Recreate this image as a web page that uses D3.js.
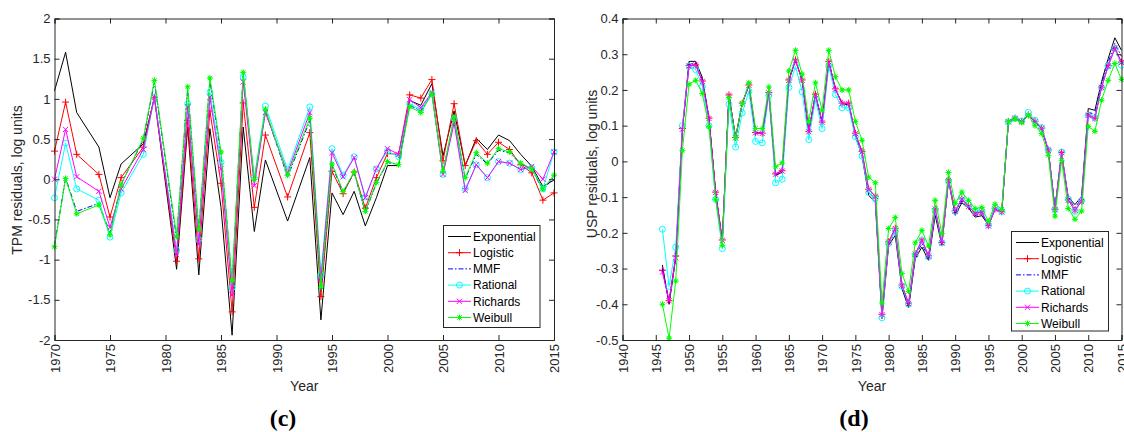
<!DOCTYPE html>
<html>
<head>
<meta charset="utf-8">
<script src="https://cdn.jsdelivr.net/npm/d3@7"></script>
<style>
  body { margin: 0; background: #fff; }
  svg { display: block; font-family: "Liberation Sans", Arial, sans-serif; }
  .axis path, .axis line { stroke: #262626; }
  .axis text { fill: #262626; font-size: 13px; font-family: "Liberation Sans", Arial, sans-serif; }
</style>
</head>
<body>
<svg width="1124" height="432"></svg>
<script>
// ---- data: panel (c), TPM residuals ----
var tpmYears = [1970, 1971, 1972, 1974, 1975, 1976, 1978, 1979, 1981, 1982, 1983, 1984, 1985, 1986,
  1987, 1988, 1989, 1991, 1993, 1994, 1995, 1996, 1997, 1998, 1999, 2000, 2001, 2002, 2003, 2004,
  2005, 2006, 2007, 2008, 2009, 2010, 2011, 2012, 2013, 2014, 2015];
var tpmExponential = [1.10, 1.58, 0.83, 0.40, -0.23, 0.19, 0.44, 1.02, -1.12, 0.65, -1.19, 0.63, -0.35, -1.94,
  0.65, -0.65, 0.24, -0.52, 0.27, -1.75, -0.17, -0.44, -0.15, -0.58, -0.23, 0.17, 0.17, 0.98, 0.92, 1.19,
  0.29, 0.85, 0.17, 0.51, 0.37, 0.55, 0.48, 0.31, 0.16, -0.09, -0.01];
var tpmLogistic = [0.35, 0.96, 0.31, 0.06, -0.47, 0.02, 0.40, 1.02, -1.02, 0.73, -0.99, 0.85, -0.05, -1.65,
  0.95, -0.35, 0.55, -0.22, 0.58, -1.46, 0.10, -0.18, 0.09, -0.36, 0.02, 0.32, 0.31, 1.05, 1.01, 1.24,
  0.23, 0.94, 0.17, 0.48, 0.31, 0.46, 0.37, 0.18, 0.08, -0.26, -0.17];
var tpmMMF = [-0.82, 0.02, -0.40, -0.30, -0.67, -0.06, 0.49, 1.21, -0.74, 1.12, -0.65, 1.23, 0.31, -1.29,
  1.30, -0.02, 0.85, 0.03, 0.73, -1.37, 0.17, -0.16, 0.08, -0.41, -0.05, 0.21, 0.18, 0.92, 0.85, 1.07,
  0.09, 0.75, 0.01, 0.31, 0.19, 0.36, 0.33, 0.19, 0.13, -0.14, 0.03];
var tpmRational = [-0.23, 0.45, -0.12, -0.26, -0.72, -0.17, 0.31, 1.02, -0.88, 0.94, -0.75, 1.08, 0.21, -1.35,
  1.27, 0.02, 0.91, 0.12, 0.90, -1.19, 0.38, 0.05, 0.28, -0.22, 0.13, 0.35, 0.28, 0.94, 0.87, 1.06,
  0.06, 0.75, -0.12, 0.18, 0.02, 0.22, 0.20, 0.12, 0.14, -0.12, 0.34];
var tpmRichards = [0.00, 0.62, 0.03, -0.15, -0.60, -0.12, 0.37, 1.02, -0.94, 0.90, -0.81, 1.02, 0.13, -1.44,
  1.21, -0.08, 0.83, 0.08, 0.83, -1.25, 0.33, 0.03, 0.27, -0.23, 0.13, 0.38, 0.31, 0.99, 0.89, 1.08,
  0.06, 0.70, -0.14, 0.18, 0.02, 0.22, 0.20, 0.12, 0.16, 0.00, 0.34];
var tpmWeibull = [-0.84, 0.01, -0.43, -0.32, -0.69, -0.07, 0.51, 1.23, -0.71, 1.15, -0.62, 1.26, 0.34, -1.26,
  1.33, 0.00, 0.87, 0.05, 0.76, -1.34, 0.19, -0.15, 0.09, -0.40, -0.04, 0.22, 0.18, 0.90, 0.83, 1.06,
  0.10, 0.77, 0.02, 0.33, 0.20, 0.38, 0.34, 0.20, 0.13, -0.12, 0.05];

// ---- data: panel (d), USP residuals, one value per year 1946..2015 ----
var uspYears = d3.range(1946, 2016);
var uspExponential = [
  -0.29, -0.40, -0.27, 0.09, 0.28, 0.28, 0.235, 0.12, -0.09, -0.225,
  0.185, 0.066, 0.162, 0.213, 0.08, 0.078, 0.192, -0.04, -0.03, 0.227,
  0.283, 0.227, 0.083, 0.187, 0.109, 0.279, 0.202, 0.162, 0.158, 0.07,
  0.015, -0.095, -0.114, -0.44, -0.235, -0.207, -0.356, -0.41, -0.272, -0.24,
  -0.277, -0.151, -0.235, -0.053, -0.151, -0.116, -0.13, -0.156, -0.152, -0.178,
  -0.13, -0.142, 0.111, 0.12, 0.111, 0.129, 0.111, 0.092, 0.031, -0.13,
  0.021, -0.1, -0.121, -0.098, 0.148, 0.143, 0.223, 0.288, 0.346, 0.311];
var uspLogistic = [
  -0.305, -0.39, -0.265, 0.092, 0.268, 0.27, 0.225, 0.121, -0.086, -0.22,
  0.186, 0.067, 0.163, 0.214, 0.081, 0.079, 0.193, -0.035, -0.026, 0.228,
  0.284, 0.228, 0.084, 0.188, 0.11, 0.28, 0.203, 0.163, 0.163, 0.079,
  0.028, -0.078, -0.097, -0.428, -0.225, -0.187, -0.346, -0.397, -0.259, -0.22,
  -0.264, -0.133, -0.227, -0.052, -0.138, -0.105, -0.125, -0.145, -0.141, -0.18,
  -0.133, -0.141, 0.112, 0.121, 0.112, 0.13, 0.112, 0.093, 0.032, -0.134,
  0.025, -0.108, -0.136, -0.111, 0.13, 0.121, 0.208, 0.268, 0.317, 0.278];
var uspMMF = [
  -0.30, -0.395, -0.27, 0.09, 0.272, 0.274, 0.228, 0.12, -0.088, -0.223,
  0.185, 0.066, 0.162, 0.213, 0.08, 0.078, 0.192, -0.038, -0.028, 0.227,
  0.283, 0.227, 0.083, 0.187, 0.109, 0.279, 0.202, 0.162, 0.16, 0.074,
  0.021, -0.087, -0.106, -0.434, -0.23, -0.197, -0.351, -0.404, -0.266, -0.23,
  -0.271, -0.142, -0.231, -0.053, -0.145, -0.111, -0.128, -0.151, -0.147, -0.18,
  -0.132, -0.142, 0.111, 0.12, 0.111, 0.129, 0.111, 0.092, 0.031, -0.132,
  0.022, -0.104, -0.129, -0.105, 0.138, 0.131, 0.215, 0.277, 0.331, 0.294];
var uspRational = [
  -0.19, -0.35, -0.24, 0.10, 0.267, 0.257, 0.21, 0.10, -0.106, -0.244,
  0.16, 0.04, 0.136, 0.196, 0.056, 0.052, 0.185, -0.06, -0.05, 0.207,
  0.266, 0.195, 0.061, 0.173, 0.092, 0.266, 0.187, 0.15, 0.15, 0.069,
  0.015, -0.087, -0.104, -0.438, -0.23, -0.195, -0.35, -0.40, -0.262, -0.221,
  -0.268, -0.138, -0.228, -0.055, -0.14, -0.10, -0.12, -0.14, -0.138, -0.178,
  -0.13, -0.14, 0.111, 0.12, 0.113, 0.137, 0.115, 0.095, 0.032, -0.135,
  0.026, -0.105, -0.14, -0.11, 0.129, 0.122, 0.207, 0.267, 0.316, 0.269];
var uspRichards = [
  -0.31, -0.39, -0.27, 0.09, 0.267, 0.27, 0.224, 0.12, -0.087, -0.221,
  0.185, 0.066, 0.162, 0.213, 0.08, 0.078, 0.192, -0.036, -0.027, 0.227,
  0.283, 0.227, 0.083, 0.187, 0.109, 0.279, 0.202, 0.162, 0.162, 0.078,
  0.027, -0.079, -0.098, -0.429, -0.226, -0.188, -0.347, -0.398, -0.26, -0.221,
  -0.265, -0.134, -0.228, -0.053, -0.139, -0.106, -0.126, -0.146, -0.142, -0.181,
  -0.134, -0.142, 0.111, 0.12, 0.111, 0.129, 0.111, 0.092, 0.031, -0.135,
  0.024, -0.109, -0.137, -0.112, 0.129, 0.12, 0.207, 0.267, 0.316, 0.277];
var uspWeibull = [
  -0.40, -0.495, -0.335, 0.03, 0.216, 0.227, 0.19, 0.097, -0.106, -0.235,
  0.178, 0.066, 0.162, 0.22, 0.092, 0.092, 0.208, -0.015, -0.004, 0.253,
  0.311, 0.244, 0.112, 0.22, 0.143, 0.311, 0.237, 0.2, 0.2, 0.112,
  0.059, -0.044, -0.06, -0.396, -0.188, -0.157, -0.314, -0.364, -0.228, -0.193,
  -0.237, -0.109, -0.202, -0.031, -0.118, -0.086, -0.109, -0.132, -0.129, -0.168,
  -0.12, -0.134, 0.111, 0.119, 0.109, 0.129, 0.10, 0.078, 0.017, -0.153,
  0.003, -0.132, -0.162, -0.139, 0.098, 0.084, 0.171, 0.227, 0.274, 0.229];

// ---- ticks ----
var tpmXTicks = [1970, 1975, 1980, 1985, 1990, 1995, 2000, 2005, 2010, 2015];
var tpmYTicks = [-2, -1.5, -1, -0.5, 0, 0.5, 1, 1.5, 2];
var uspXTicks = [1940, 1945, 1950, 1955, 1960, 1965, 1970, 1975, 1980, 1985, 1990, 1995, 2000, 2005, 2010, 2015];
var uspYTicks = [-0.5, -0.4, -0.3, -0.2, -0.1, 0, 0.1, 0.2, 0.3, 0.4];

var seriesNames = ["Exponential", "Logistic", "MMF", "Rational", "Richards", "Weibull"];
var seriesColors = ["#000000", "#ff0000", "#0000ff", "#00ffff", "#ff00ff", "#00ff00"];
var seriesMarkers = ["none", "plus", "none", "circle", "cross", "star"];

var svg = d3.select("svg");

// marker shapes, drawn around (0,0)
var markerPaths = {
  plus: "M-3.5,0H3.5M0,-3.5V3.5",
  cross: "M-2.6,-2.6L2.6,2.6M-2.6,2.6L2.6,-2.6",
  star: "M-3,0H3M0,-3V3M-2.2,-2.2L2.2,2.2M-2.2,2.2L2.2,-2.2"
};

function drawMarker(g, kind, color, x, y) {
  if (kind === "none") return;
  if (kind === "circle") {
    g.append("circle").attr("cx", x).attr("cy", y).attr("r", 3)
      .attr("fill", "none").attr("stroke", color).attr("stroke-width", 1);
  } else {
    g.append("path").attr("d", markerPaths[kind])
      .attr("transform", "translate(" + x + "," + y + ")")
      .attr("fill", "none").attr("stroke", color).attr("stroke-width", 1);
    if (kind === "star") {
      g.append("circle").attr("cx", x).attr("cy", y).attr("r", 1.6).attr("fill", color);
    }
  }
}

function drawPanel(cfg) {
  var x = d3.scaleLinear().domain(cfg.xDomain).range([cfg.left, cfg.right]);
  var y = d3.scaleLinear().domain(cfg.yDomain).range([cfg.bottom, cfg.top]);
  var g = svg.append("g");

  // series lines and markers
  var line = d3.line()
    .x(function(d) { return x(d[0]); })
    .y(function(d) { return y(d[1]); });

  cfg.series.forEach(function(values, i) {
    var pts = cfg.years.map(function(yr, j) { return [yr, values[j]]; });
    g.append("path")
      .datum(pts)
      .attr("d", line)
      .attr("fill", "none")
      .attr("stroke", seriesColors[i])
      .attr("stroke-width", 1)
      .attr("stroke-dasharray", seriesNames[i] === "MMF" ? "5,2,1.5,2" : null);
    var mg = g.append("g");
    pts.forEach(function(p) {
      drawMarker(mg, seriesMarkers[i], seriesColors[i], x(p[0]), y(p[1]));
    });
  });

  // axes, MATLAB style: ticks inside, box all around
  var bottomAxis = g.append("g").attr("class", "axis")
    .attr("transform", "translate(0," + cfg.bottom + ")")
    .call(d3.axisBottom(x).tickValues(cfg.xTicks).tickSize(-5).tickFormat(d3.format("d")));
  bottomAxis.selectAll("text")
    .attr("transform", "rotate(-90)")
    .attr("text-anchor", "end")
    .attr("x", -4)
    .attr("y", 0)
    .attr("dy", "0.36em");

  g.append("g").attr("class", "axis")
    .attr("transform", "translate(0," + cfg.top + ")")
    .call(d3.axisTop(x).tickValues(cfg.xTicks).tickSize(-5).tickFormat(""));

  g.append("g").attr("class", "axis")
    .attr("transform", "translate(" + cfg.left + ",0)")
    .call(d3.axisLeft(y).tickValues(cfg.yTicks).tickSize(-5).tickPadding(4)
      .tickFormat(function(d) { return String(d); }));

  g.append("g").attr("class", "axis")
    .attr("transform", "translate(" + cfg.right + ",0)")
    .call(d3.axisRight(y).tickValues(cfg.yTicks).tickSize(-5).tickFormat(""));

  g.selectAll(".axis .domain").attr("stroke-width", 1);

  // axis titles
  g.append("text")
    .attr("transform", "translate(" + cfg.yLabelX + "," + cfg.yLabelY + ") rotate(-90)")
    .attr("text-anchor", "middle")
    .attr("font-size", 14)
    .attr("fill", "#262626")
    .text(cfg.yLabel);

  g.append("text")
    .attr("x", (cfg.left + cfg.right) / 2)
    .attr("y", 391)
    .attr("text-anchor", "middle")
    .attr("font-size", 14)
    .attr("fill", "#262626")
    .text("Year");

  // panel caption
  g.append("text")
    .attr("x", cfg.captionX)
    .attr("y", 426)
    .attr("text-anchor", "middle")
    .attr("font-family", "'Liberation Serif', 'Times New Roman', serif")
    .attr("font-weight", "bold")
    .attr("font-size", 24)
    .attr("fill", "#000")
    .text(cfg.caption);

  // legend
  var lg = g.append("g");
  lg.append("rect")
    .attr("x", cfg.legend[0]).attr("y", cfg.legend[1])
    .attr("width", cfg.legend[2]).attr("height", cfg.legend[3])
    .attr("fill", "#fff").attr("stroke", "#262626").attr("stroke-width", 1);
  seriesNames.forEach(function(name, i) {
    var cy = cfg.legend[1] + 11 + i * 16.2;
    var x0 = cfg.legend[0] + 4.5;
    var x1 = x0 + 23;
    lg.append("line")
      .attr("x1", x0).attr("x2", x1).attr("y1", cy).attr("y2", cy)
      .attr("stroke", seriesColors[i]).attr("stroke-width", 1)
      .attr("stroke-dasharray", name === "MMF" ? "5,2,1.5,2" : null);
    drawMarker(lg, seriesMarkers[i], seriesColors[i], (x0 + x1) / 2, cy);
    lg.append("text")
      .attr("x", x1 + 2).attr("y", cy)
      .attr("dy", "0.36em")
      .attr("font-size", 12)
      .attr("fill", "#000")
      .text(name);
  });
}

drawPanel({
  left: 54.5, right: 554, top: 18.5, bottom: 340,
  xDomain: [1970, 2015], yDomain: [-2, 2],
  xTicks: tpmXTicks, yTicks: tpmYTicks,
  years: tpmYears,
  series: [tpmExponential, tpmLogistic, tpmMMF, tpmRational, tpmRichards, tpmWeibull],
  yLabel: "TPM residuals, log units", yLabelX: 22, yLabelY: 180,
  caption: "(c)", captionX: 283,
  legend: [443.5, 225.5, 96.5, 102]
});

drawPanel({
  left: 622.5, right: 1121.5, top: 18.5, bottom: 340,
  xDomain: [1940, 2015], yDomain: [-0.5, 0.4],
  xTicks: uspXTicks, yTicks: uspYTicks,
  years: uspYears,
  series: [uspExponential, uspLogistic, uspMMF, uspRational, uspRichards, uspWeibull],
  yLabel: "USP residuals, log units", yLabelX: 597, yLabelY: 164,
  caption: "(d)", captionX: 854,
  legend: [1011.5, 231.5, 97, 99.5]
});
</script>
</body>
</html>
